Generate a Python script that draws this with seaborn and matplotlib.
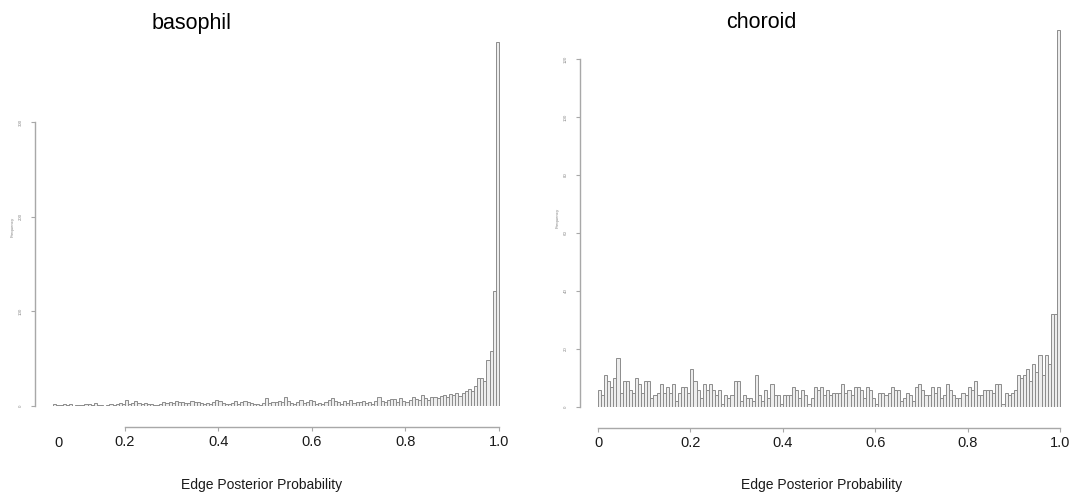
import numpy as np
import pandas as pd
import matplotlib
matplotlib.use("Agg")
import matplotlib.pyplot as plt
import matplotlib.transforms as mtransforms
import seaborn as sns

sns.set_style("white")
plt.rcParams['font.family'] = ['Liberation Sans', 'DejaVu Sans']

# ---------------- data ----------------
titles = ["basophil", "choroid"]
x_label = "Edge Posterior Probability"
y_label = "Frequency"

# basophil: 143 bins of width 1/150 from 7/150 to 1
basophil_start_bin = 7
basophil_counts = [
    2, 1, 1, 2, 1, 2, 0, 1, 1, 1, 2, 2, 1, 3, 1, 1, 0, 1, 2, 1, 2, 3, 2,
    6, 2, 3, 5, 3, 2, 3, 2, 2, 1, 1, 2, 4, 3, 4, 3, 5, 4, 4, 3, 3, 5, 4, 4, 3, 2, 3, 2, 4, 6,
    5, 3, 2, 2, 3, 5, 2, 4, 5, 4, 3, 2, 2, 1, 3, 8, 3, 4, 4, 5, 4, 9, 5, 3, 2, 4, 6, 3, 4, 6,
    5, 2, 3, 2, 4, 6, 8, 5, 4, 2, 5, 3, 6, 3, 4, 4, 5, 3, 4, 2, 5, 9, 5, 4, 6, 7, 7, 4, 8, 5,
    4, 6, 9, 7, 6, 12, 8, 6, 9, 10, 8, 11, 12, 10, 13, 12, 14, 11, 14, 16,
    18, 16, 21, 30, 30, 26, 49, 58, 121, 384,
]

# choroid: 150 bins of width 1/150 from 0 to 1
choroid_start_bin = 0
choroid_counts = [
    6, 4, 11, 9, 7, 10, 17, 5, 9, 9,
    6, 5, 10, 8, 5, 9, 9, 3, 4, 5,
    8, 5, 7, 5, 8, 2, 5, 7, 7, 5,
    13, 9, 6, 3, 8, 6, 8, 6, 4, 6,
    1, 4, 3, 4, 9, 9, 2, 4, 3, 3,
    2, 11, 4, 2, 6, 3, 8, 4, 4, 1,
    4, 4, 4, 7, 6, 3, 6, 4, 1, 3,
    7, 6, 7, 4, 6, 4, 5, 5, 5, 8,
    5, 6, 4, 7, 7, 6, 3, 7, 6, 3,
    1, 5, 5, 4, 5, 7, 6, 6, 2, 3,
    5, 4, 2, 7, 8, 6, 4, 4, 7, 5,
    7, 3, 4, 8, 6, 4, 3, 3, 5, 4,
    7, 6, 9, 4, 4, 6, 6, 6, 5, 8,
    8, 1, 5, 4, 5, 6, 11, 10, 11, 13,
    9, 15, 12, 18, 11, 18, 15, 32, 32, 130,
]
n_total_bins = 150

basophil_yticks = [0, 100, 200, 300]
choroid_yticks = [0, 20, 40, 60, 80, 100, 120]
basophil_xticks = [0.2, 0.4, 0.6, 0.8, 1.0]
choroid_xticks = [0.0, 0.2, 0.4, 0.6, 0.8, 1.0]
xtick_labels_b = ["0.2", "0.4", "0.6", "0.8", "1.0"]
xtick_labels_c = ["0", "0.2", "0.4", "0.6", "0.8", "1.0"]

# ---------------- figure ----------------
W, H = 1091, 495
fig = plt.figure(figsize=(W / 100, H / 100), dpi=100)

def frac(left, top, right, bottom):
    return [left / W, 1 - bottom / H, (right - left) / W, (bottom - top) / H]

ax_b = fig.add_axes(frac(35, 40, 505, 406))
ax_c = fig.add_axes(frac(580, 28, 1066, 407))

edge_col = "#8c8c8c"
face_col = "#ededed"
axis_col = "#a8a8a8"

def draw(ax, counts, start_bin, yticks, xticks, xlabels, xlim, ylim):
    counts = [float(c) for c in counts]
    width = 1.0 / n_total_bins
    lo = start_bin * width
    hi = (start_bin + len(counts)) * width
    centers = [lo + (i + 0.5) * width for i in range(len(counts))]
    df = pd.DataFrame({"p": centers, "n": counts})
    sns.histplot(data=df, x="p", weights="n", binwidth=width, binrange=(lo, hi),
                 ax=ax, stat="count", element="bars", fill=True,
                 color=face_col, edgecolor=edge_col, linewidth=0.7, alpha=1)
    ax.set_xlim(*xlim)
    ax.set_ylim(*ylim)
    ax.set_xlabel("")
    ax.set_ylabel("")
    for s in ["top", "right"]:
        ax.spines[s].set_visible(False)
    ax.spines["left"].set_color(axis_col)
    ax.spines["bottom"].set_color(axis_col)
    ax.spines["left"].set_linewidth(1.0)
    ax.spines["bottom"].set_linewidth(1.0)
    ax.spines["left"].set_bounds(yticks[0], yticks[-1])
    ax.spines["bottom"].set_bounds(xticks[0], xticks[-1])
    ax.spines["bottom"].set_position(("outward", 15))
    ax.set_yticks(yticks)
    ax.set_yticklabels([str(t) for t in yticks], rotation=90, fontsize=3.2,
                       color="#888888", va="center")
    ax.set_xticks(xticks)
    ax.set_xticklabels(xlabels, fontsize=10.5, color="#1a1a1a")
    ax.tick_params(axis="y", direction="out", length=3, width=0.8,
                   color=axis_col, pad=6, left=True)
    ax.tick_params(axis="x", direction="out", length=3, width=0.8,
                   color=axis_col, pad=3, bottom=True)
    ax.grid(False)

draw(ax_b, basophil_counts, basophil_start_bin, basophil_yticks,
     basophil_xticks, xtick_labels_b, (0.0075, 1.013), (0, 386.6))
draw(ax_c, choroid_counts, choroid_start_bin, choroid_yticks,
     choroid_xticks, xtick_labels_c, (-0.039, 1.013), (0, 130.7))

# extra "0" label on the basophil axis (outside the drawn axis line)
trans = mtransforms.blended_transform_factory(ax_b.transData, fig.transFigure)
ax_b.text(0.057, 1 - 443 / H, "0", transform=trans, fontsize=10.5,
          color="#1a1a1a", ha="center", va="center")

# titles
fig.text(192 / W, 1 - 23 / H, titles[0], fontsize=15.5, ha="center", va="center",
         color="black")
fig.text(761 / W, 1 - 23 / H, titles[1], fontsize=15.5, ha="center", va="center",
         color="black")

# x labels
fig.text(262 / W, 1 - 485 / H, x_label, fontsize=10, ha="center", va="center",
         color="#1a1a1a")
fig.text(822 / W, 1 - 485 / H, x_label, fontsize=10, ha="center", va="center",
         color="#1a1a1a")

# tiny y labels
fig.text(13 / W, 1 - 227 / H, y_label, fontsize=3.2, rotation=90,
         ha="center", va="center", color="#888888")
fig.text(558 / W, 1 - 218 / H, y_label, fontsize=3.2, rotation=90,
         ha="center", va="center", color="#888888")

fig.savefig("out.png", dpi=100)
